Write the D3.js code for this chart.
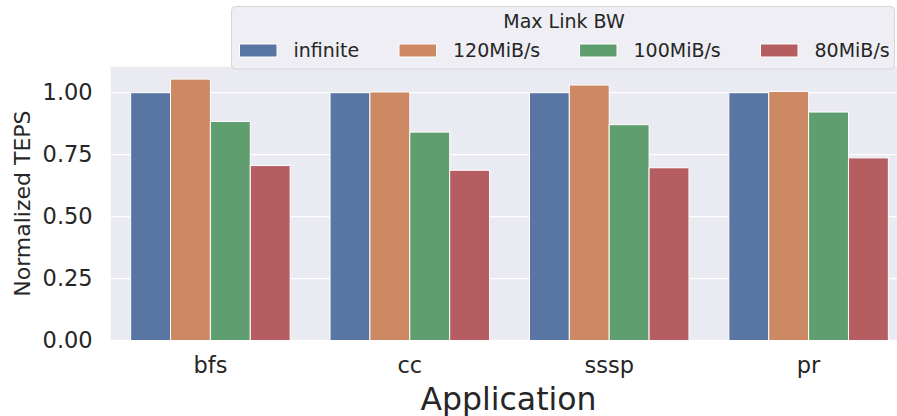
<!DOCTYPE html>
<html lang="en">
<head>
<meta charset="utf-8">
<title>Normalized TEPS</title>
<script src="https://cdn.jsdelivr.net/npm/d3@7"></script>
<style>
  body { margin: 0; background: #fff; }
  svg text { font-family: "DejaVu Sans", sans-serif; fill: #262626; }
</style>
</head>
<body>
<script>
// data
var apps = ["bfs", "cc", "sssp", "pr"];
var series = ["infinite", "120MiB/s", "100MiB/s", "80MiB/s"];
var infinite = [1.0, 1.0, 1.0, 1.0];
var bw120 = [1.055, 1.003, 1.031, 1.005];
var bw100 = [0.884, 0.841, 0.871, 0.922];
var bw80 = [0.706, 0.687, 0.697, 0.737];
var yTicks = [0, 0.25, 0.5, 0.75, 1.0];
var colors = ["#5975a4", "#cc8963", "#5f9e6e", "#b55d60"];

var values = [infinite, bw120, bw100, bw80];

var w = 897, h = 416;
// plot area (window.top is reserved, so use other names)
var pLeft = 110.7, pRight = 908.3, pTop = 66.7, pBottom = 340.5;

var svg = d3.select("body").append("svg")
  .attr("width", w).attr("height", h);

var x = d3.scaleBand().domain(apps).range([pLeft, pRight])
  .paddingInner(0.2).paddingOuter(0.1);
var xs = d3.scaleBand().domain(series).range([0, x.bandwidth()]);
var y = d3.scaleLinear().domain([0, 1.105]).range([pBottom, pTop]);

// background
svg.append("rect")
  .attr("x", pLeft).attr("y", pTop)
  .attr("width", pRight - pLeft).attr("height", pBottom - pTop)
  .attr("fill", "#eaeaf2");

// grid
svg.selectAll("line.grid")
  .data(yTicks)
  .enter().append("line")
  .attr("class", "grid")
  .attr("x1", pLeft).attr("x2", pRight)
  .attr("y1", function(d){ return y(d); })
  .attr("y2", function(d){ return y(d); })
  .attr("stroke", "#fff").attr("stroke-width", 1.3);

// bars
var rows = [];
apps.forEach(function(a, i){
  series.forEach(function(s, j){
    rows.push({app: a, s: s, j: j, v: values[j][i]});
  });
});

svg.selectAll("rect.bar")
  .data(rows)
  .enter().append("rect")
  .attr("class", "bar")
  .attr("x", function(d){ return x(d.app) + xs(d.s); })
  .attr("y", function(d){ return y(d.v); })
  .attr("width", xs.bandwidth())
  .attr("height", function(d){ return y(0) - y(d.v); })
  .attr("fill", function(d){ return colors[d.j]; })
  .attr("stroke", "#fff").attr("stroke-width", 1);

// y axis labels
var yAxis = svg.append("g")
  .attr("transform", "translate(" + pLeft + ",0)")
  .call(d3.axisLeft(y).tickValues(yTicks).tickFormat(d3.format(".2f"))
        .tickSize(0).tickPadding(18));
yAxis.select(".domain").remove();
yAxis.selectAll("text")
  .attr("font-size", "22.5px")
  .attr("fill", "#262626")
  .style("font-family", "DejaVu Sans");

// x axis labels
var xAxis = svg.append("g")
  .attr("transform", "translate(0," + pBottom + ")")
  .call(d3.axisBottom(x).tickSize(0).tickPadding(17));
xAxis.select(".domain").remove();
xAxis.selectAll("text")
  .attr("font-size", "22.5px")
  .attr("fill", "#262626")
  .style("font-family", "DejaVu Sans");

// axis titles
svg.append("text")
  .attr("x", (pLeft + pRight) / 2 - 1).attr("y", 410)
  .attr("text-anchor", "middle")
  .attr("font-size", "31.5px")
  .text("Application");

svg.append("text")
  .attr("transform", "translate(30," + ((pTop + pBottom) / 2) + ") rotate(-90)")
  .attr("text-anchor", "middle")
  .attr("font-size", "22px")
  .text("Normalized TEPS");

// legend
var lg = svg.append("g");
lg.append("rect")
  .attr("x", 231.5).attr("y", 6.5)
  .attr("width", 663).attr("height", 62.5)
  .attr("rx", 4)
  .attr("fill", "#eeeef4")
  .attr("stroke", "#d6d6d6").attr("stroke-width", 1);

lg.append("text")
  .attr("x", 564).attr("y", 28)
  .attr("text-anchor", "middle")
  .attr("font-size", "19px")
  .text("Max Link BW");

var patchX = [239.5, 399, 579.5, 760.5];
var item = lg.selectAll("g.item")
  .data(series)
  .enter().append("g")
  .attr("class", "item")
  .attr("transform", function(d, i){ return "translate(" + patchX[i] + ",0)"; });

item.append("rect")
  .attr("x", 0).attr("y", 44)
  .attr("width", 37.5).attr("height", 13)
  .attr("fill", function(d, i){ return colors[i]; })
  .attr("stroke", "#fff").attr("stroke-width", 1);

item.append("text")
  .attr("x", 54).attr("y", 57)
  .attr("font-size", "19px")
  .text(function(d){ return d; });
</script>
</body>
</html>
